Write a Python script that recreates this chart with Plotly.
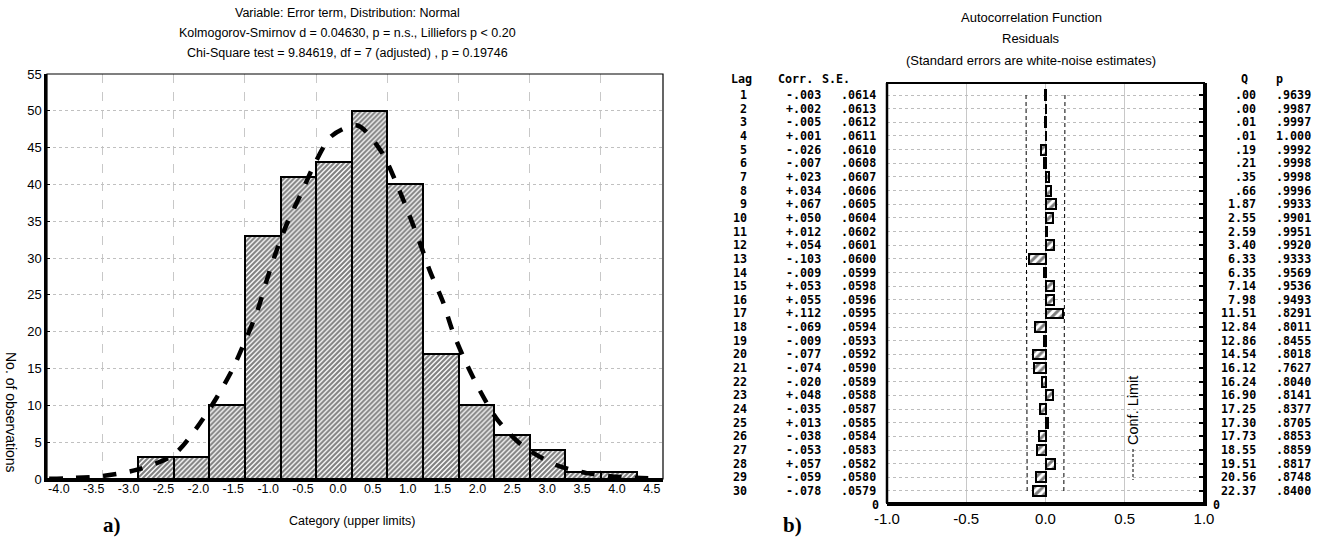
import plotly.graph_objects as go

W, H = 1326, 542

# ---------------- Left panel: histogram ----------------
upper_limits = [-4.0, -3.5, -3.0, -2.5, -2.0, -1.5, -1.0, -0.5, 0.0, 0.5,
                1.0, 1.5, 2.0, 2.5, 3.0, 3.5, 4.0, 4.5]
counts = [0, 0, 0, 3, 3, 10, 33, 41, 43, 50, 40, 17, 10, 6, 4, 1, 1, 0]
bin_width = 0.5

# expected normal curve
curve_x = [-4.25, -4.0, -3.5, -3.0, -2.5, -2.18, -1.9, -1.67, -1.5, -1.33, -1.2,
           -1.06, -0.9, -0.7, -0.52, -0.28, 0.08, 0.42, 0.63, 0.79, 0.96, 1.1,
           1.28, 1.42, 1.59, 1.8, 2.05, 2.4, 2.87, 3.3, 3.8, 4.3]
curve_y = [0.05, 0.1, 0.4, 1.3, 3.3, 6.9, 11, 15, 18.7, 22.7, 26.8, 30.9, 34.9,
           39, 42.8, 46.6, 48, 44.4, 40.1, 36.3, 32, 28.2, 24.1, 20, 16.1, 12,
           8, 4.5, 1.9, 0.8, 0.25, 0.05]

y_ticks_left = list(range(0, 60, 5))

title_left = ["Variable: Error term, Distribution: Normal",
              "Kolmogorov-Smirnov d = 0.04630, p = n.s., Lilliefors p < 0.20",
              "Chi-Square test = 9.84619, df = 7 (adjusted) , p = 0.19746"]

# ---------------- Right panel: autocorrelation ----------------
lags = list(range(1, 31))
corr = [-.003, .002, -.005, .001, -.026, -.007, .023, .034, .067, .050,
        .012, .054, -.103, -.009, .053, .055, .112, -.069, -.009, -.077,
        -.074, -.020, .048, -.035, .013, -.038, -.053, .057, -.059, -.078]
se = [.0614, .0613, .0612, .0611, .0610, .0608, .0607, .0606, .0605, .0604,
      .0602, .0601, .0600, .0599, .0598, .0596, .0595, .0594, .0593, .0592,
      .0590, .0589, .0588, .0587, .0585, .0584, .0583, .0582, .0580, .0579]
q_stat = [0.00, 0.00, 0.01, 0.01, 0.19, 0.21, 0.35, 0.66, 1.87, 2.55,
          2.59, 3.40, 6.33, 6.35, 7.14, 7.98, 11.51, 12.84, 12.86, 14.54,
          16.12, 16.24, 16.90, 17.25, 17.30, 17.73, 18.55, 19.51, 20.56, 22.37]
p_val = [.9639, .9987, .9997, 1.000, .9992, .9998, .9998, .9996, .9933, .9901,
         .9951, .9920, .9333, .9569, .9536, .9493, .8291, .8011, .8455, .8018,
         .7627, .8040, .8141, .8377, .8705, .8853, .8859, .8817, .8748, .8400]
x_ticks_right = [-1.0, -0.5, 0.0, 0.5, 1.0]

title_right = ["Autocorrelation Function", "Residuals",
               "(Standard errors are white-noise estimates)"]


def px(x):
    return x / W


def py(y):
    return 1 - y / H


SANS = "Liberation Sans"
MONO = "DejaVu Sans Mono"
TSIZE = 11.7

fig = go.Figure()

# histogram bars
fig.add_trace(go.Bar(
    x=[u - bin_width / 2 for u in upper_limits], y=counts, width=bin_width,
    marker=dict(color="white",
                pattern=dict(shape="/", fgcolor="black", bgcolor="white",
                             size=3.5, solidity=0.6),
                line=dict(color="black", width=2)),
    xaxis="x", yaxis="y", showlegend=False, hoverinfo="skip"))

# expected normal curve
fig.add_trace(go.Scatter(
    x=curve_x, y=curve_y, mode="lines",
    line=dict(color="black", width=4.5, dash="dash", shape="spline", smoothing=0.8),
    xaxis="x", yaxis="y", showlegend=False, hoverinfo="skip"))

# invisible trace carrying the category (upper limit) labels axis
fig.add_trace(go.Scatter(
    x=upper_limits, y=counts, mode="markers", marker=dict(opacity=0),
    xaxis="x3", yaxis="y", showlegend=False, hoverinfo="skip"))

# autocorrelation bars
fig.add_trace(go.Bar(
    x=corr, y=lags, orientation="h", width=0.72,
    marker=dict(color="white",
                pattern=dict(shape="/", fgcolor="black", bgcolor="white",
                             size=6, solidity=0.5),
                line=dict(color="black", width=2)),
    xaxis="x2", yaxis="y2", showlegend=False, hoverinfo="skip"))

# confidence limits (2 * S.E.)
for sgn in (-1, 1):
    fig.add_trace(go.Scatter(
        x=[sgn * 2 * s for s in se], y=lags, mode="lines",
        line=dict(color="black", width=1, dash="4px,3px"),
        xaxis="x2", yaxis="y2", showlegend=False, hoverinfo="skip"))

ann = []
for i, t in enumerate(title_left):
    ann.append(dict(text=t, x=px(347), y=py(13 + 20 * i), xref="paper", yref="paper",
                    showarrow=False, xanchor="center", yanchor="middle",
                    font=dict(family=SANS, size=12.5, color="black")))
for i, t in enumerate(title_right):
    ann.append(dict(text=t, x=px(1031), y=py(17 + 21.5 * i), xref="paper", yref="paper",
                    showarrow=False, xanchor="center", yanchor="middle",
                    font=dict(family=SANS, size=13, color="black")))

ann.append(dict(text="No. of observations", x=px(11), y=py(412), xref="paper", yref="paper",
                showarrow=False, textangle=90, xanchor="center", yanchor="middle",
                font=dict(family=SANS, size=14, color="black")))
ann.append(dict(text="Category (upper limits)", x=px(352), y=py(521), xref="paper",
                yref="paper", showarrow=False, xanchor="center", yanchor="middle",
                font=dict(family=SANS, size=12.5, color="black")))
ann.append(dict(text="<b>a)</b>", x=px(112), y=py(525), xref="paper", yref="paper",
                showarrow=False, xanchor="center", yanchor="middle",
                font=dict(family="Liberation Serif", size=21, color="black")))
ann.append(dict(text="<b>b)</b>", x=px(792), y=py(525), xref="paper", yref="paper",
                showarrow=False, xanchor="center", yanchor="middle",
                font=dict(family="Liberation Serif", size=21, color="black")))

for txt, xc in [("Lag", 741), ("Corr.", 795), ("S.E.", 836), ("Q", 1244), ("p", 1279)]:
    ann.append(dict(text=txt, x=px(xc), y=py(79), xref="paper", yref="paper",
                    showarrow=False, xanchor="center", yanchor="middle",
                    font=dict(family=MONO, size=TSIZE, color="black", weight="bold")))


def fmt_corr(v):
    s = f"{v:+.3f}"
    return s.replace("0.", ".", 1)


def fmt_q(v):
    s = f"{v:.2f}"
    return s[1:] if s.startswith("0.") else s


def fmt_p(v):
    return "1.000" if v >= 1 else f"{v:.4f}"[1:]


for i, lag in enumerate(lags):
    cells = [(str(lag), 749), (fmt_corr(corr[i]), 823), (f"{se[i]:.4f}"[1:], 878),
             (fmt_q(q_stat[i]), 1258), (fmt_p(p_val[i]), 1313)]
    for txt, xr in cells:
        ann.append(dict(text=txt, x=px(xr), y=lag, xref="paper", yref="y2",
                        showarrow=False, xanchor="right", yanchor="middle",
                        font=dict(family=MONO, size=TSIZE, color="black", weight="bold")))

for xr, anc in [(881, "right"), (1211, "left")]:
    ann.append(dict(text="0", x=px(xr), y=py(505), xref="paper", yref="paper",
                    showarrow=False, xanchor=anc, yanchor="middle",
                    font=dict(family=MONO, size=TSIZE, color="black", weight="bold")))

ann.append(dict(text="Conf. Limit", x=px(1133), y=py(411), xref="paper", yref="paper",
                showarrow=False, textangle=-90, xanchor="center", yanchor="middle",
                font=dict(family=SANS, size=14.5, color="black")))

shapes = [
    dict(type="rect", xref="x domain", yref="y domain", x0=0, x1=1, y0=0, y1=1,
         line=dict(color="black", width=1.2), layer="above"),
    dict(type="rect", xref="x2 domain", yref="y2 domain", x0=0, x1=1, y0=0, y1=1,
         line=dict(color="black", width=2), layer="above"),
    dict(type="line", xref="x2 domain", yref="y2 domain", x0=0, x1=0, y0=0, y1=1,
         line=dict(color="black", width=2.5), layer="above"),
    dict(type="line", xref="paper", yref="paper", x0=px(1133), x1=px(1133),
         y0=py(449), y1=py(480), line=dict(color="black", width=1, dash="3px,2px")),
]

LEFT_DOM = [px(47), px(663)]

fig.update_layout(
    width=W, height=H, margin=dict(l=0, r=0, t=0, b=0, pad=0), autosize=False,
    paper_bgcolor="white", plot_bgcolor="white",
    font=dict(family=SANS, size=12, color="black"),
    bargap=0,
    xaxis=dict(domain=LEFT_DOM, range=[-4.28, 4.372], automargin=False,
               showticklabels=False, showgrid=False, zeroline=False, ticks="",
               showline=True, linecolor="black", linewidth=3,
               minor=dict(tick0=0, dtick=bin_width, showgrid=True,
                          gridcolor="#c8c8c8", griddash="dash", gridwidth=1, ticks=""),
               fixedrange=True),
    xaxis3=dict(domain=LEFT_DOM, range=[-4.17, 4.66], overlaying="x", anchor="y",
                side="bottom", tickvals=upper_limits, automargin=False,
                ticktext=[f"{u:.1f}" for u in upper_limits],
                showgrid=False, zeroline=False, showline=False, ticks="",
                tickfont=dict(family=SANS, size=12.5, color="black"), fixedrange=True),
    yaxis=dict(domain=[py(479), py(74)], range=[0, 55], tickvals=y_ticks_left,
               automargin=False,
               showgrid=True, gridcolor="#c0c0c0", griddash="dot", gridwidth=1,
               zeroline=False, showline=True, linecolor="black", linewidth=2.5,
               ticks="inside", ticklen=3, tickcolor="black",
               tickfont=dict(family=SANS, size=13, color="black"), fixedrange=True),
    xaxis2=dict(domain=[px(887), px(1204)], range=[-1, 1], tickvals=x_ticks_right,
                ticktext=[f"{v:.1f}" for v in x_ticks_right], automargin=False,
                showgrid=True, gridcolor="#c8c8c8", gridwidth=1.2, zeroline=False,
                showline=True, linecolor="black", linewidth=3, ticks="",
                tickfont=dict(family=SANS, size=15, color="black"),
                anchor="y2", fixedrange=True),
    yaxis2=dict(domain=[py(503), py(83)], range=[30.88, 0.12], tickvals=lags,
                showticklabels=False, side="right", automargin=False,
                showgrid=True, gridcolor="#bdbdbd", griddash="dot", gridwidth=1,
                zeroline=False, showline=True, linecolor="black", linewidth=2.5,
                ticks="inside", ticklen=5, tickwidth=2, tickcolor="black",
                anchor="x2", fixedrange=True),
    annotations=ann,
    shapes=shapes,
)

fig.write_html("out.html")
